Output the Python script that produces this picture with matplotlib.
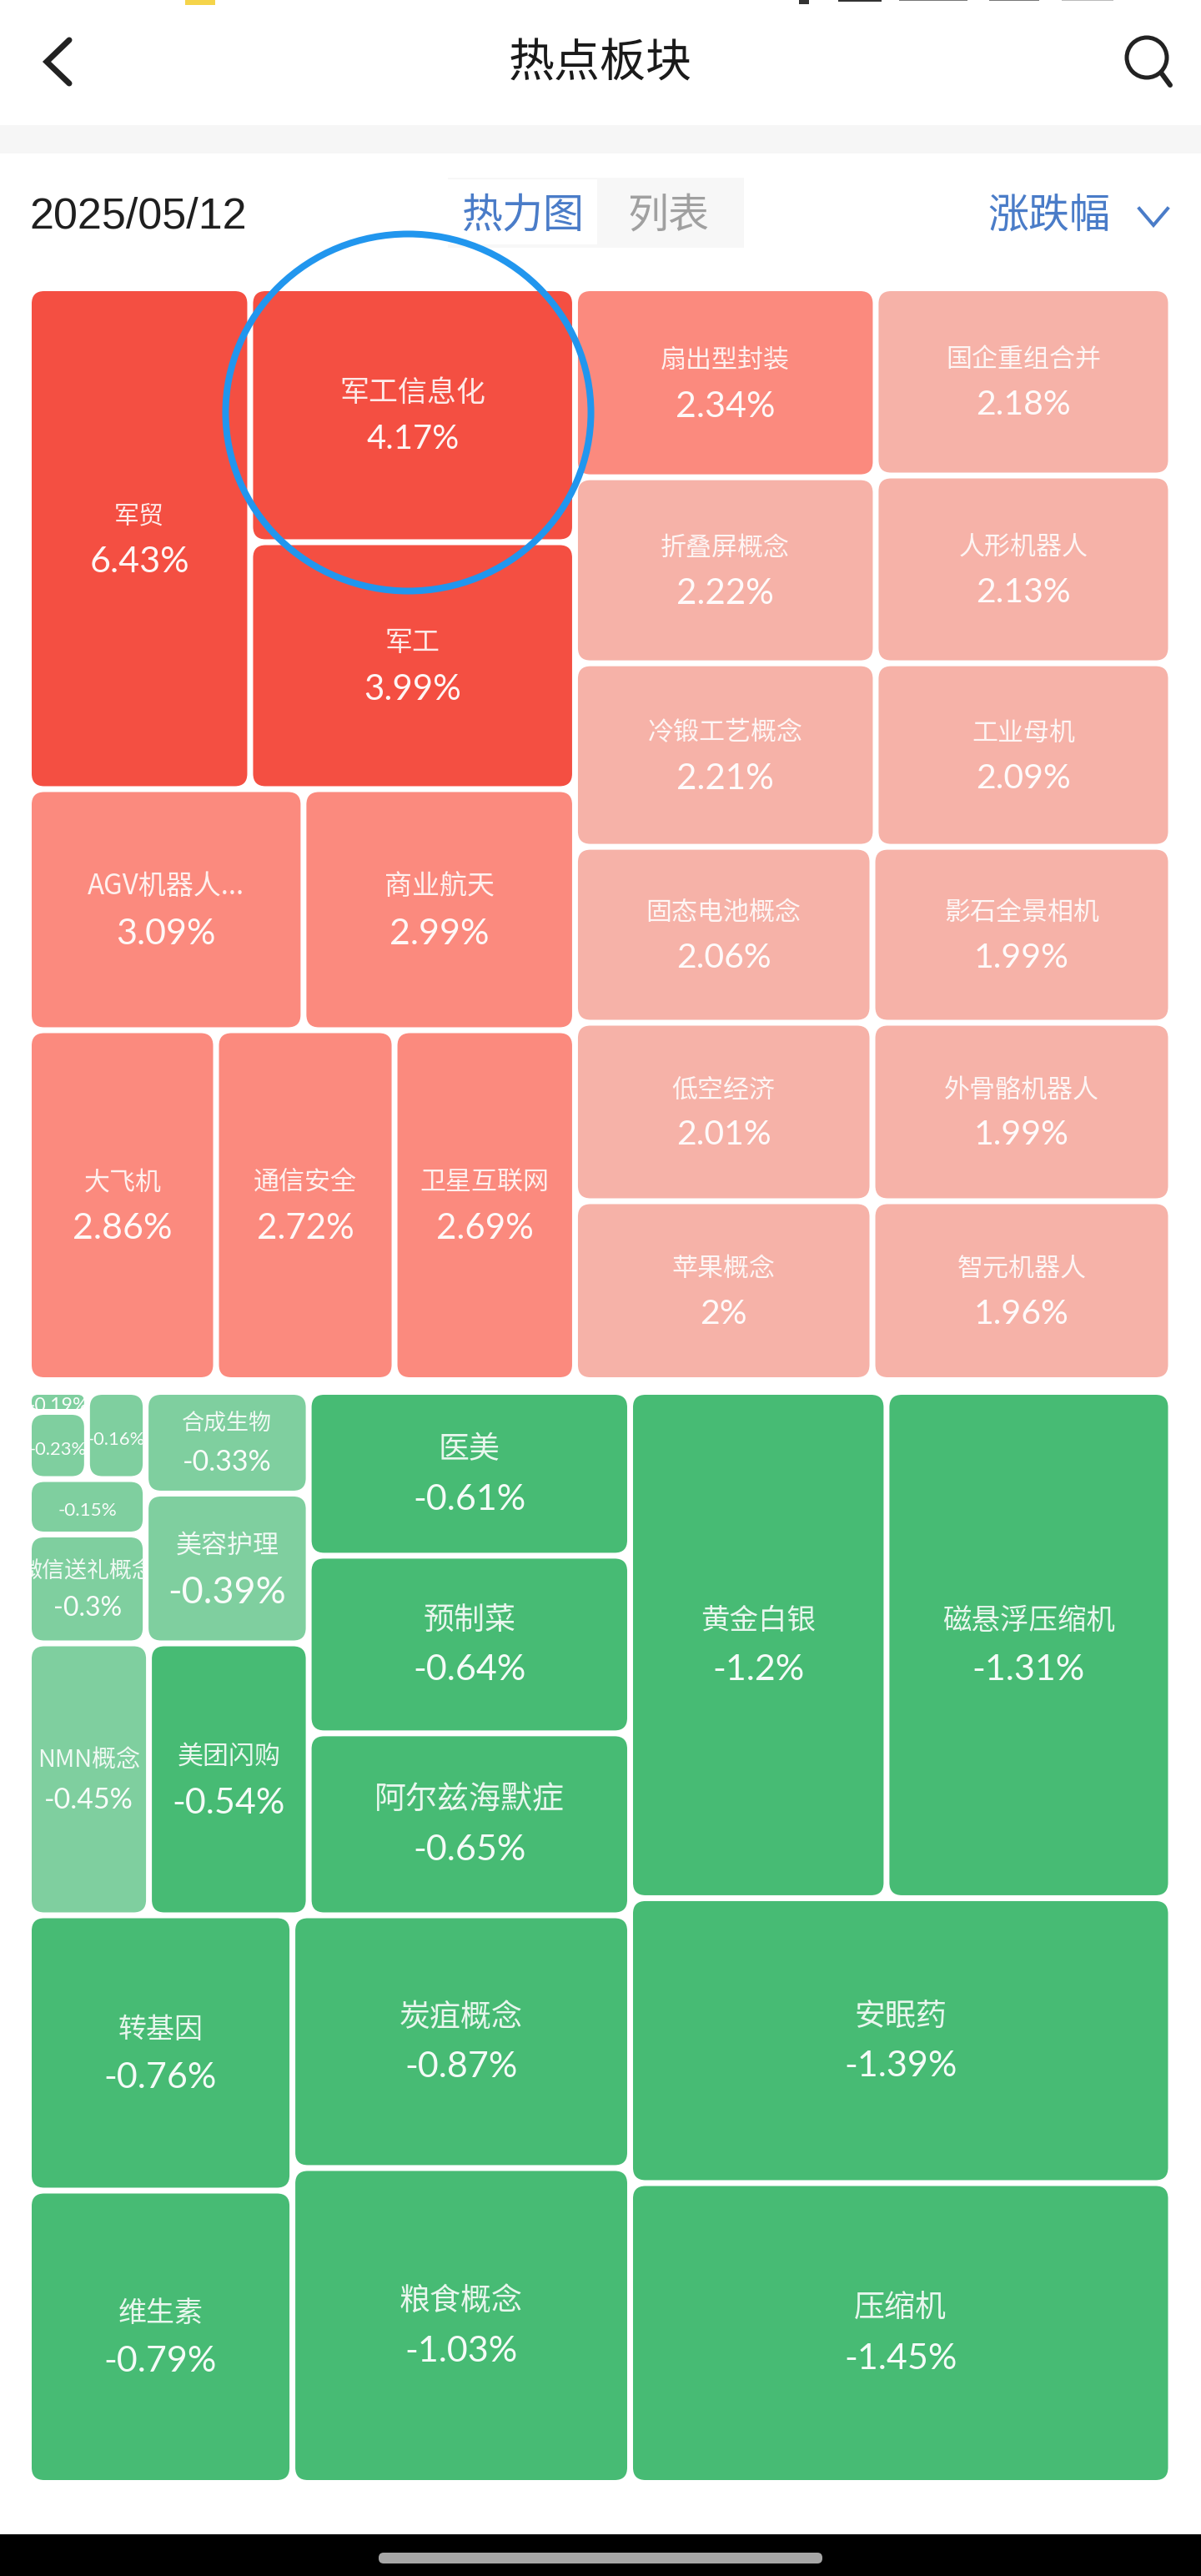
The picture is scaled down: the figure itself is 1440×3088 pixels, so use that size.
import matplotlib
matplotlib.use('Agg')
import matplotlib.pyplot as plt
from matplotlib.patches import FancyBboxPatch, Ellipse, Rectangle

plt.rcParams['font.family'] = ['Noto Sans CJK SC', 'DejaVu Sans']

# red block
up_names = ['军贸', '军工信息化', '军工', 'AGV机器人...', '商业航天', '大飞机', '通信安全', '卫星互联网',
            '扇出型封装', '折叠屏概念', '冷锻工艺概念', '国企重组合并', '人形机器人', '工业母机',
            '固态电池概念', '低空经济', '苹果概念', '影石全景相机', '外骨骼机器人', '智元机器人']
up_values = ['6.43', '4.17', '3.99', '3.09', '2.99', '2.86', '2.72', '2.69',
             '2.34', '2.22', '2.21', '2.18', '2.13', '2.09',
             '2.06', '2.01', '2', '1.99', '1.99', '1.96']
up_sizes = [1594, 1186, 1153, 952, 941, 942, 898, 908,
            817, 804, 793, 795, 797, 779,
            752, 763, 765, 755, 766, 768]
up_tree = ('x', [('y', [('x', [0, ('y', [1, 2])]),
                        ('x', [3, 4]),
                        ('x', [5, 6, 7])]),
                 ('y', [('x', [('y', [8, 9, 10]), ('y', [11, 12, 13])]),
                        ('x', [('y', [14, 15, 16]), ('y', [17, 18, 19])])])])

# green block
down_names = ['', '', '', '', '微信送礼概念', '合成生物', '美容护理', 'NMN概念', '美团闪购',
              '医美', '预制菜', '阿尔兹海默症', '转基因', '维生素', '炭疽概念', '粮食概念',
              '黄金白银', '磁悬浮压缩机', '安眠药', '压缩机']
down_values = ['-0.19', '-0.23', '-0.16', '-0.15', '-0.3', '-0.33', '-0.39', '-0.45', '-0.54',
               '-0.61', '-0.64', '-0.65', '-0.76', '-0.79', '-0.87', '-1.03',
               '-1.2', '-1.31', '-1.39', '-1.45']
down_sizes = [16.8, 56.4, 73.7, 93.4, 183.4, 239, 352, 471, 626,
              759, 823, 843, 1046, 1111, 1230, 1533,
              1871, 2076, 2221, 2338]
down_tree = ('x', [('y', [('x', [('y', [('x', [('y', [('x', [('y', [0, 1]), 2]), 3, 4]),
                                               ('y', [5, 6])]),
                                        ('x', [7, 8])]),
                                 ('y', [9, 10, 11])]),
                          ('x', [('y', [12, 13]), ('y', [14, 15])])]),
                   ('y', [('x', [16, 17]), 18, 19])])

up_label_px = [30, 35, 33, 33, 33, 31, 31, 31, 31, 31, 31, 31, 31, 31, 31, 31, 31, 31, 31, 31]
up_value_px = [43, 40, 42, 43, 43, 43, 42, 42, 43, 42, 42, 41, 41, 41, 41, 41, 41, 41, 41, 41]
down_label_px = [0, 0, 0, 0, 27, 27, 31, 29, 31, 37, 37, 38, 34, 34, 37, 37, 34.5, 34.5, 37, 37]
down_value_px = [23, 22, 22, 22.5, 32, 34, 45, 34, 43, 43, 43, 43, 43, 43, 43, 43, 43, 43, 43, 43]

DARK_RED, MID_RED, LIGHT_RED = '#f44f42', '#fb8a7e', '#f6b2a8'
DARK_GREEN, LIGHT_GREEN = '#47bb74', '#7fcf9f'
BLUE = '#4a7cc8'
GAP = 3.5


def px(p):
    return p * 0.72


def total(node, sizes):
    if isinstance(node, int):
        return sizes[node]
    return sum(total(c, sizes) for c in node[1])


def layout(node, sizes, x0, y0, x1, y1, out):
    # slice the box along the node's direction in proportion to the sizes
    if isinstance(node, int):
        out[node] = (x0, y0, x1, y1)
        return
    whole = total(node, sizes)
    pos = x0 if node[0] == 'x' else y0
    for child in node[1]:
        frac = total(child, sizes) / whole
        if node[0] == 'x':
            nxt = pos + (x1 - x0) * frac
            layout(child, sizes, pos, y0, nxt, y1, out)
        else:
            nxt = pos + (y1 - y0) * frac
            layout(child, sizes, x0, pos, x1, nxt, out)
        pos = nxt


def up_color(v):
    return DARK_RED if v >= 3.5 else (MID_RED if v >= 2.3 else LIGHT_RED)


def down_color(v):
    return LIGHT_GREEN if v > -0.5 else DARK_GREEN


def draw_block(ax, tree, names, values, sizes, label_px, value_px, box, color_fn):
    rects = {}
    layout(tree, sizes, box[0], box[1], box[2], box[3], rects)
    for i in range(len(names)):
        x0, y0, x1, y1 = rects[i]
        x0, y0, x1, y1 = x0 + GAP, y0 + GAP, x1 - GAP, y1 - GAP
        r = min(15, (y1 - y0) / 2 - 1)
        patch = FancyBboxPatch((x0 + r, y0 + r), x1 - x0 - 2 * r, y1 - y0 - 2 * r,
                               boxstyle='round,pad=%f,rounding_size=%f' % (r, r),
                               fc=color_fn(float(values[i])), ec='none')
        ax.add_patch(patch)
        # agg clips text only to a box, not to a rounded path
        clip = Rectangle((x0, y0), x1 - x0, y1 - y0, transform=ax.transData)
        cx, cy = (x0 + x1) / 2, (y0 + y1) / 2
        if names[i]:
            sep = (label_px[i] + value_px[i]) / 2 * 1.5
            t = ax.text(cx, cy - sep / 2 + 1, names[i], fontsize=px(label_px[i]), color='white', alpha=0.88,
                        ha='center', va='center', clip_on=True)
            t.set_clip_path(clip)
            vy = cy + sep / 2 + 1
        else:
            vy = cy + 5
        t = ax.text(cx, vy, values[i] + '%', fontsize=px(value_px[i]), color='white', alpha=0.95,
                    ha='center', va='center', family=['Lato', 'DejaVu Sans'], clip_on=True)
        t.set_clip_path(clip)


fig = plt.figure(figsize=(14.4, 30.88), dpi=100, facecolor='white')
ax = fig.add_axes([0, 0, 1, 1])
ax.set_xlim(0, 1440)
ax.set_ylim(3088, 0)
ax.axis('off')

# status bar leftovers
ax.add_patch(Rectangle((222, 0), 36, 6, fc='#f5d44a', ec='none'))
ax.add_patch(Rectangle((1005, 0), 52, 2, fc='#333333', ec='none'))
ax.add_patch(Rectangle((958, 0), 12, 5, fc='#333333', ec='none'))
ax.add_patch(Rectangle((1078, 0), 82, 1, fc='#777777', ec='none'))
ax.add_patch(Rectangle((1186, 0), 60, 1, fc='#777777', ec='none'))
ax.add_patch(Rectangle((1273, 0), 62, 1, fc='#bbbbbb', ec='none'))

# header
ax.plot([83, 56, 83], [48, 74, 100], color='#222222', lw=px(7), solid_capstyle='round', solid_joinstyle='miter')
ax.text(720, 77, '热点板块', fontsize=px(55), color='#1a1a1a', ha='center', va='center')
ax.add_patch(Ellipse((1375, 69), 48, 48, fc='none', ec='#222222', lw=px(5)))
ax.plot([1392, 1403], [87, 102], color='#222222', lw=px(6), solid_capstyle='round')
ax.add_patch(Rectangle((0, 150), 1440, 34, fc='#f6f6f6', ec='none'))

# toolbar
ax.text(35, 260, '2025/05/12', fontsize=px(52), color='#1f1f1f', ha='left', va='center',
        family=['Liberation Sans', 'DejaVu Sans'])
ax.add_patch(Rectangle((537, 213), 355, 84, fc='#f7f7f7', ec='none'))
ax.add_patch(Rectangle((537, 215), 179, 78, fc='white', ec='none'))
ax.text(627, 259, '热力图', fontsize=px(49), color=BLUE, ha='center', va='center')
ax.text(801, 259, '列表', fontsize=px(49), color='#a0a0a0', ha='center', va='center')
ax.text(1258, 259, '涨跌幅', fontsize=px(49), color=BLUE, ha='center', va='center')
ax.plot([1366, 1383, 1400], [250, 270, 250], color=BLUE, lw=px(4), solid_joinstyle='miter')

# treemaps
draw_block(ax, up_tree, up_names, up_values, up_sizes, up_label_px, up_value_px,
           (34.5, 345.5, 1404, 1654.5), up_color)
draw_block(ax, down_tree, down_names, down_values, down_sizes, down_label_px, down_value_px,
           (34.5, 1668.5, 1404, 2976.5), down_color)

# hand drawn circle
ax.add_patch(Ellipse((489.5, 494.5), 438, 428, fc='none', ec='#2196ee', lw=px(8), zorder=5))

# navigation bar
ax.add_patch(Rectangle((0, 3038), 1440, 50, fc='black', ec='none'))
ax.add_patch(FancyBboxPatch((460, 3066), 520, 1, boxstyle='round,pad=6,rounding_size=6', fc='#a6a6a6', ec='none'))

fig.savefig('out.png', dpi=100)
